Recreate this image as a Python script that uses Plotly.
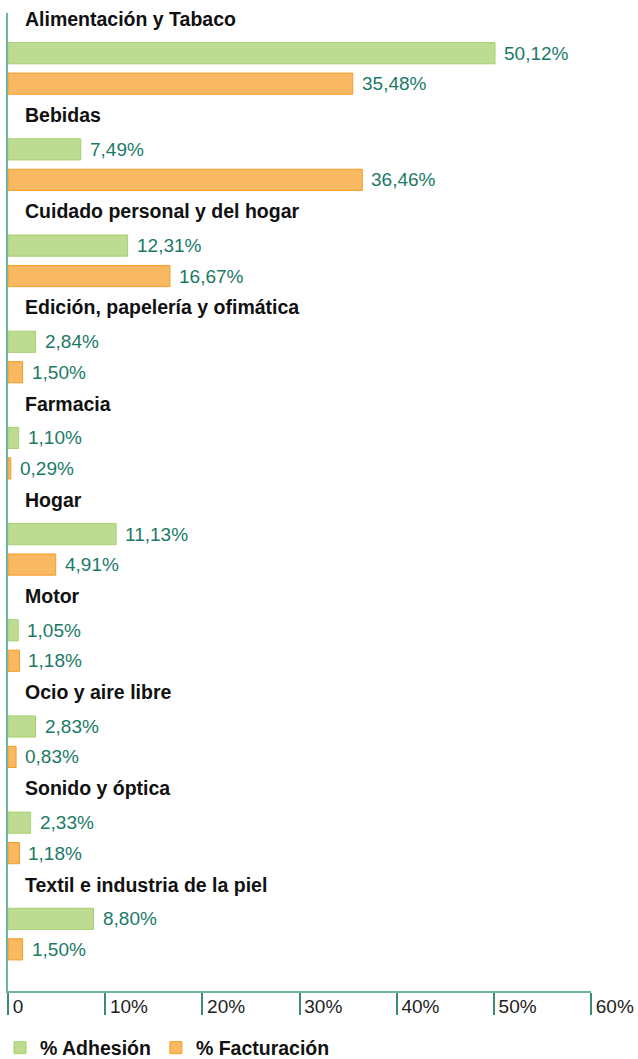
import plotly.graph_objects as go

categories = [
    "Alimentación y Tabaco",
    "Bebidas",
    "Cuidado personal y del hogar",
    "Edición, papelería y ofimática",
    "Farmacia",
    "Hogar",
    "Motor",
    "Ocio y aire libre",
    "Sonido y óptica",
    "Textil e industria de la piel",
]
adhesion = [50.12, 7.49, 12.31, 2.84, 1.10, 11.13, 1.05, 2.83, 2.33, 8.80]
facturacion = [35.48, 36.46, 16.67, 1.50, 0.29, 4.91, 1.18, 0.83, 1.18, 1.50]
tick_values = [0, 10, 20, 30, 40, 50, 60]
tick_labels = ["0", "10%", "20%", "30%", "40%", "50%", "60%"]

GREEN = "#bedc91"
GREEN_LINE = "#a6d070"
ORANGE = "#f9b862"
ORANGE_LINE = "#f59c24"
TEAL_TEXT = "#1b7a66"
AXIS = "#6fb3a3"
TICK = "#3a8c78"
FONT = "Liberation Sans, Arial, Helvetica, sans-serif"


def fmt(v):
    return f"{v:.2f}".replace(".", ",") + "%"


# three slots per category: title, adhesion bar, facturacion bar
title_y = [3 * i - 0.05 for i in range(len(categories))]
adh_y = [3 * i + 1.02 for i in range(len(categories))]
fac_y = [3 * i + 1.97 for i in range(len(categories))]

fig = go.Figure()
fig.add_trace(go.Bar(
    x=adhesion, y=adh_y, orientation="h", width=0.66, name="% Adhesión",
    marker=dict(color=GREEN, line=dict(color=GREEN_LINE, width=1)),
    hoverinfo="skip",
))
fig.add_trace(go.Bar(
    x=facturacion, y=fac_y, orientation="h", width=0.66, name="% Facturación",
    marker=dict(color=ORANGE, line=dict(color=ORANGE_LINE, width=1)),
    hoverinfo="skip",
))

for name, yy in zip(categories, title_y):
    fig.add_annotation(x=0, y=yy, text=f"<b>{name}</b>", showarrow=False,
                       xanchor="left", yanchor="middle", xshift=15,
                       font=dict(family=FONT, size=19.5, color="#111111"))

for vals, ys in ((adhesion, adh_y), (facturacion, fac_y)):
    for v, yy in zip(vals, ys):
        fig.add_annotation(x=v, y=yy, text=fmt(v), showarrow=False,
                           xanchor="left", yanchor="middle", xshift=7,
                           font=dict(family=FONT, size=19, color=TEAL_TEXT))

fig.update_layout(
    width=638, height=1059,
    margin=dict(l=8, r=47, t=13, b=68, autoexpand=False),
    plot_bgcolor="white", paper_bgcolor="white",
    barmode="overlay",
    font=dict(family=FONT, size=19, color="#222222"),
    showlegend=True,
    legend=dict(orientation="h", xref="container", yref="container",
                x=-0.006, xanchor="left", y=0.0104, yanchor="middle",
                font=dict(family=FONT, size=19.5, color="#111111", weight="bold"),
                itemclick=False, itemdoubleclick=False),
    xaxis=dict(range=[0, 60], tickvals=tick_values, ticktext=tick_labels,
               automargin=False,
               showgrid=False, zeroline=False, showline=True, linecolor=AXIS, linewidth=2,
               ticks="outside", ticklen=22, tickcolor=TICK, tickwidth=1.5,
               ticklabelposition="outside right", ticklabelstandoff=-3, ticklabelshift=3,
               tickfont=dict(family=FONT, size=19, color="#222222")),
    yaxis=dict(range=[30.27, -0.234], showticklabels=False, ticks="",
               automargin=False,
               showgrid=False, zeroline=False, showline=True, linecolor=AXIS, linewidth=2),
)

# the page keeps the browser's default body margin otherwise
fig.write_html("out.html", config={"displayModeBar": False},
               post_script="document.body.style.margin='0';")
